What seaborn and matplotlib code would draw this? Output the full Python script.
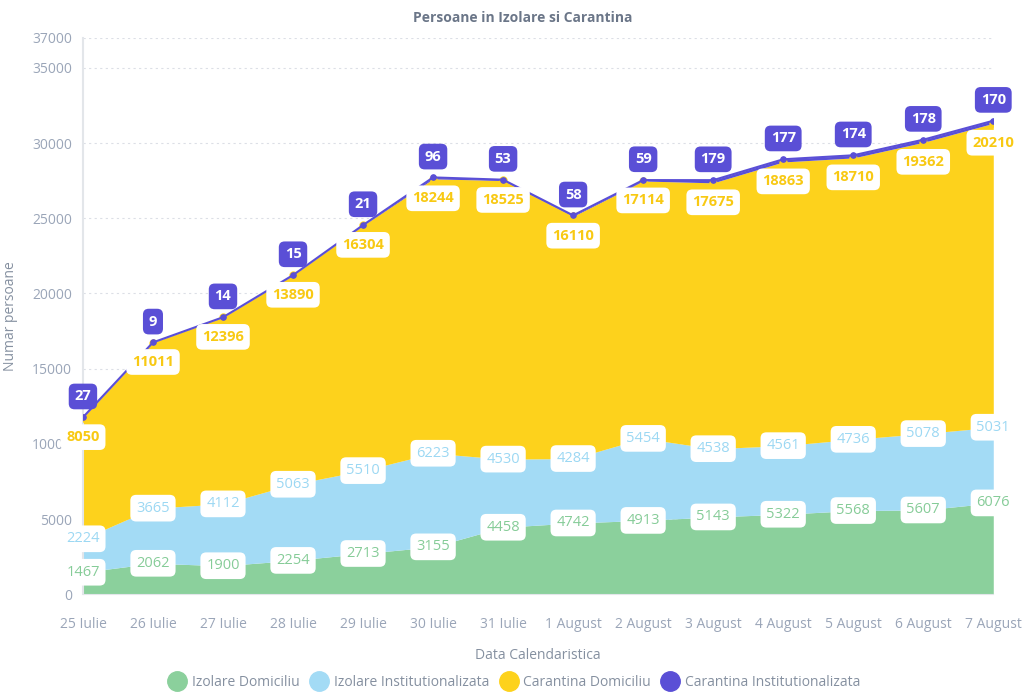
import numpy as np
import matplotlib
matplotlib.use('Agg')
import matplotlib.pyplot as plt
import seaborn as sns
import pandas as pd
from matplotlib.lines import Line2D

# data
dates = ['25 Iulie', '26 Iulie', '27 Iulie', '28 Iulie', '29 Iulie', '30 Iulie', '31 Iulie',
         '1 August', '2 August', '3 August', '4 August', '5 August', '6 August', '7 August']
izolare_dom = [1467, 2062, 1900, 2254, 2713, 3155, 4458, 4742, 4913, 5143, 5322, 5568, 5607, 6076]
izolare_inst = [2224, 3665, 4112, 5063, 5510, 6223, 4530, 4284, 5454, 4538, 4561, 4736, 5078, 5031]
carantina_dom = [8050, 11011, 12396, 13890, 16304, 18244, 18525, 16110, 17114, 17675, 18863, 18710, 19362, 20210]
carantina_inst = [27, 9, 14, 15, 21, 96, 53, 58, 59, 179, 177, 174, 178, 170]

series_names = ['Izolare Domiciliu', 'Izolare Institutionalizata', 'Carantina Domiciliu', 'Carantina Institutionalizata']
colors = ['#8bd09c', '#a3dbf5', '#fdd21c', '#5a4fd6']
y_ticks = [0, 5000, 10000, 15000, 20000, 25000, 30000, 35000, 37000]

sns.set_style('white')
plt.rcParams['font.family'] = ['Open Sans', 'DejaVu Sans']

fig = plt.figure(figsize=(10.24, 7), dpi=100)
ax = fig.add_axes([0.081, 0.151, 0.889, 0.795])

x = np.arange(len(dates))
df = pd.DataFrame({'x': x, 'g': izolare_dom, 'b': izolare_inst, 'y': carantina_dom, 'p': carantina_inst})
c1 = df['g']
c2 = c1 + df['b']
c3 = c2 + df['y']
c4 = c3 + df['p']

ax.fill_between(x, 0, c1, color=colors[0], lw=0, zorder=2)
ax.fill_between(x, c1, c2, color=colors[1], lw=0, zorder=2)
ax.fill_between(x, c2, c3, color=colors[2], lw=0, zorder=2)
ax.fill_between(x, c3, c4, color=colors[3], lw=0, zorder=2)
ax.plot(x, c3, 'o', color=colors[2], ms=5, zorder=3)
sns.lineplot(x=x, y=c4, ax=ax, color=colors[3], lw=1.5, marker='o', ms=4,
             markeredgecolor=colors[3], zorder=4)

ax.set_xlim(0, len(dates) - 1)
ax.set_ylim(0, 37000)
ax.set_yticks(y_ticks)
ax.set_yticklabels([str(t) for t in y_ticks])
ax.set_xticks(x)
ax.set_xticklabels(dates)
ax.tick_params(axis='both', colors='#9aa5b8', labelsize=10, length=0)
ax.tick_params(axis='x', pad=16)
ax.tick_params(axis='y', pad=8)
for t in y_ticks[1:]:
    ax.axhline(t, color='#dcdfe6', lw=0.8, ls=(0, (2, 3)), zorder=1)
for s in ['top', 'right']:
    ax.spines[s].set_visible(False)
ax.spines['left'].set_color('#e3e6ea')
ax.spines['left'].set_linewidth(1.5)
ax.spines['bottom'].set_color('#e3e6ea')

ax.set_xlabel('Data Calendaristica', color='#8590a0', fontsize=10, labelpad=12)
ax.set_ylabel('Numar persoane', color='#8590a0', fontsize=10)
ax.yaxis.set_label_coords(-0.071, 0.5)
fig.text(0.51, 0.975, 'Persoane in Izolare si Carantina', ha='center', va='center',
         color='#6b7688', fontsize=10, fontweight='bold')

# data labels
box_white = dict(boxstyle='round,pad=0.4', fc='white', ec='none')
for i in x:
    ax.annotate(str(izolare_dom[i]), (i, c1[i]), ha='center', va='center', fontsize=10.5,
                color='#86cc98', bbox=box_white, zorder=6, annotation_clip=False)
    ax.annotate(str(izolare_inst[i]), (i, c2[i]), ha='center', va='center', fontsize=10.5,
                color='#9cd8f3', bbox=box_white, zorder=6, annotation_clip=False)
    ax.annotate(str(carantina_dom[i]), (i, c3[i]), xytext=(0, -14), textcoords='offset points',
                ha='center', va='center', fontsize=10.5, fontweight='bold', color='#f8c913',
                bbox=box_white, zorder=6, annotation_clip=False)
    ax.annotate(str(carantina_inst[i]), (i, c4[i]), xytext=(0, 15), textcoords='offset points',
                ha='center', va='center', fontsize=10.5, fontweight='bold', color='white',
                bbox=dict(boxstyle='round,pad=0.4', fc=colors[3], ec='none'),
                zorder=7, annotation_clip=False)

handles = [Line2D([], [], marker='o', ls='', ms=14, color=c) for c in colors]
fig.legend(handles, series_names, loc='center', bbox_to_anchor=(0.5, 0.025), ncol=4,
           frameon=False, fontsize=10, labelcolor='#8590a0', handletextpad=0.05,
           columnspacing=0.4)

fig.savefig('out.png', dpi=100)
